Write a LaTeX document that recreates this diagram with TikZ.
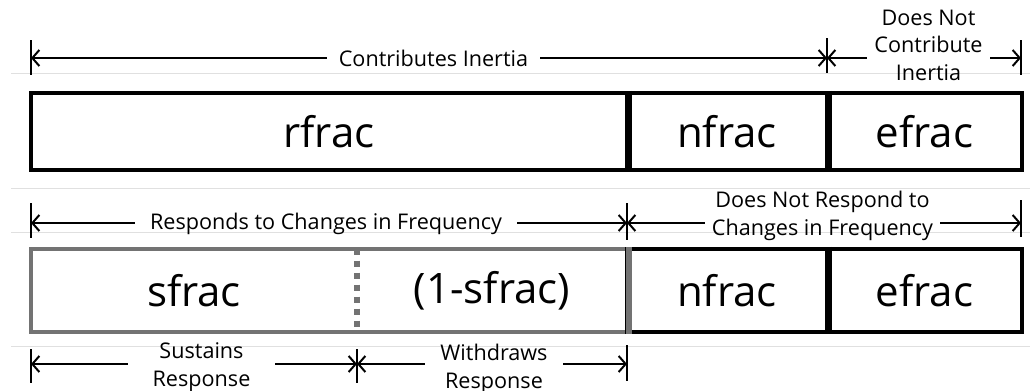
\documentclass[tikz,border=0pt]{standalone}
\usepackage{fontspec}
\setmainfont{Open Sans}
\usepackage{tikz}
\usetikzlibrary{arrows.meta}
\tikzstyle{cell} = [rectangle, draw, line width=2.2pt, inner sep=0pt,
    minimum height=38.5pt, font=\fontsize{21}{25}\selectfont]
\tikzstyle{grcell} = [rectangle, inner sep=0pt, minimum height=41.5pt,
    font=\fontsize{21}{25}\selectfont]
\tikzstyle{lbl} = [inner sep=0pt, align=center,
    font=\fontsize{10.8}{13.8}\selectfont]
\tikzstyle{tick} = [line width=1pt]
\tikzstyle{rule} = [black!12, line width=0.5pt]

\begin{document}
\begin{tikzpicture}[x=0.5pt,y=-0.5pt,>={Straight Barb[length=3.5pt,width=8pt]},
                    dim/.style={->,line width=1pt}]
  \useasboundingbox (0,0) rectangle (1030,391);

  % faint page rules
  \draw[rule] (11,73) -- (1030,73);
  \draw[rule] (11,188) -- (1030,188);
  \draw[rule] (11,232) -- (1030,232);
  \draw[rule] (11,346) -- (1030,346);

  % top row
  \node[cell, minimum width=298pt]  (rfrac) at (329,131.5)   {rfrac};
  \node[cell, minimum width=100pt]  (nfrac) at (727,131.5)   {nfrac};
  \node[cell, minimum width=97.5pt] (efrac) at (924.5,131.5) {efrac};
  \draw[line width=3.2pt] (rfrac.north east) -- (rfrac.south east);
  \draw[line width=3.2pt] (nfrac.north east) -- (nfrac.south east);

  % bottom row
  \node[grcell, draw=black!55, line width=1.7pt, minimum width=298pt]
        (resp) at (329,290.5) {};
  \node[grcell, minimum width=163pt] (sfrac)  at (194,290.5) {sfrac};
  \node[grcell, minimum width=135pt] (osfrac) at (492,290.5) {(1-sfrac)};
  \node[cell, minimum height=41.5pt, minimum width=100pt]  (nfrac2) at (727,290.5)   {nfrac};
  \node[cell, minimum height=41.5pt, minimum width=97.5pt] (efrac2) at (924.5,290.5) {efrac};
  \draw[line width=3.2pt] (nfrac2.north east) -- (nfrac2.south east);
  \draw[black!55, line width=3pt, dash pattern=on 3pt off 3pt]
        (sfrac.north east) -- (sfrac.south east);
  \draw[black!55, line width=3.2pt] (resp.north east) -- (resp.south east);

  % inertia
  \coordinate (a1) at (31,58);
  \coordinate (a2) at (827,58);
  \coordinate (a3) at (1021,58);
  \draw[tick] (31,40) -- (31,75);
  \draw[tick] (827,38) -- (827,73);
  \draw[tick] (1021,40) -- (1021,75);
  \node[lbl, minimum width=106.5pt] (l1) at (433.5,58) {Contributes Inertia};
  \node[lbl, minimum width=61.5pt]  (l2) at (928.5,45) {Does Not\\Contribute\\Inertia};
  \draw[dim] (l1.west) -- (a1);
  \draw[dim] (l1.east) -- (a2);
  \draw[dim] (l2.west |- a2) -- (a2);
  \draw[dim] (l2.east |- a3) -- (a3);

  % frequency response
  \coordinate (b1) at (31,223);
  \coordinate (b2) at (627,223);
  \coordinate (b3) at (1021,223);
  \draw[tick] (31,203) -- (31,238);
  \draw[tick] (627,203) -- (627,240);
  \draw[tick] (1021,200) -- (1021,237);
  \node[lbl, minimum width=191pt]   (l3) at (326,224)   {Responds to Changes in Frequency};
  \node[lbl, minimum width=117.5pt] (l4) at (822.5,216) {Does Not Respond to\\Changes in Frequency};
  \draw[dim] (l3.west |- b1) -- (b1);
  \draw[dim] (l3.east |- b2) -- (b2);
  \draw[dim] (l4.west |- b2) -- (b2);
  \draw[dim] (l4.east |- b3) -- (b3);

  % sustain / withdraw
  \coordinate (c1) at (31,364);
  \coordinate (c2) at (357,364);
  \coordinate (c3) at (627,364);
  \draw[tick] (31,349) -- (31,383);
  \draw[tick] (357,349) -- (357,383);
  \draw[tick] (627,345) -- (627,381);
  \node[lbl, minimum width=73.5pt] (l5) at (201.5,367) {Sustains\\Response};
  \node[lbl, minimum width=69pt]   (l6) at (494,369)   {Withdraws\\Response};
  \draw[dim] (l5.west |- c1) -- (c1);
  \draw[dim] (l5.east |- c2) -- (c2);
  \draw[dim] (l6.west |- c2) -- (c2);
  \draw[dim] (l6.east |- c3) -- (c3);
\end{tikzpicture}
\end{document}
